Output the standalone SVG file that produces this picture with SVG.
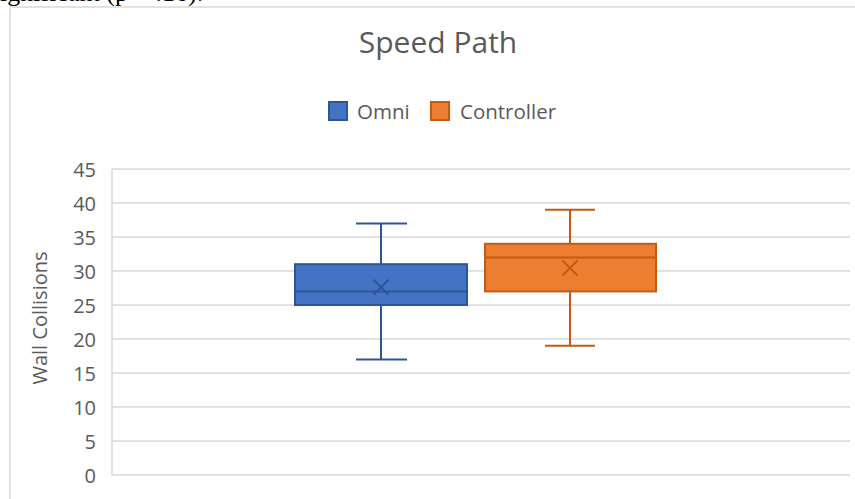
<svg xmlns="http://www.w3.org/2000/svg" width="855" height="499" viewBox="0 0 855 499">
<style>
.grid{stroke:#D9D9D9;stroke-width:1.5;fill:none}
.lbl{font-family:"Open Sans","Liberation Sans",sans-serif;fill:#595959}
.ytick{font-size:20px;text-anchor:end}
.omni{fill:#4472C4;stroke:#2F5597;stroke-width:2}
.omniL{stroke:#2F5597;stroke-width:2;fill:none}
.ctrl{fill:#ED7D31;stroke:#C55A11;stroke-width:2}
.ctrlL{stroke:#C55A11;stroke-width:2;fill:none}
</style>
<rect width="855" height="499" fill="#FFFFFF"/>
<text x="-10" y="1" font-family="'Liberation Serif',serif" font-size="26" fill="#000">significant (p = .16).</text>
<rect x="10" y="7" width="860" height="510" fill="#FFFFFF" stroke="#D9D9D9" stroke-width="1.5"/>
<text x="438" y="53" class="lbl" font-size="30" text-anchor="middle">Speed Path</text>
<g id="legend">
<rect x="329" y="102" width="18" height="18" class="omni" stroke-width="1.5"/>
<text x="357" y="119" class="lbl" font-size="20.5">Omni</text>
<rect x="431" y="102" width="18" height="18" class="ctrl" stroke-width="1.5"/>
<text x="460" y="119" class="lbl" font-size="20.5">Controller</text>
</g>
<g id="axes">
<line x1="112" y1="169" x2="850" y2="169" class="grid"/>
<line x1="112" y1="203" x2="850" y2="203" class="grid"/>
<line x1="112" y1="237" x2="850" y2="237" class="grid"/>
<line x1="112" y1="271" x2="850" y2="271" class="grid"/>
<line x1="112" y1="305" x2="850" y2="305" class="grid"/>
<line x1="112" y1="339" x2="850" y2="339" class="grid"/>
<line x1="112" y1="373" x2="850" y2="373" class="grid"/>
<line x1="112" y1="407" x2="850" y2="407" class="grid"/>
<line x1="112" y1="441" x2="850" y2="441" class="grid"/>
<line x1="112" y1="475" x2="850" y2="475" class="grid"/>
<line x1="112" y1="169" x2="112" y2="475" class="grid"/>
<g class="lbl ytick">
<text x="96" y="177">45</text>
<text x="96" y="211">40</text>
<text x="96" y="245">35</text>
<text x="96" y="279">30</text>
<text x="96" y="313">25</text>
<text x="96" y="347">20</text>
<text x="96" y="381">15</text>
<text x="96" y="415">10</text>
<text x="96" y="449">5</text>
<text x="96" y="483">0</text>
</g>
<text transform="translate(47,318) rotate(-90)" class="lbl" font-size="20" text-anchor="middle">Wall Collisions</text>
</g>
<g id="omni">
<line x1="381" y1="223.4" x2="381" y2="264.2" class="omniL"/>
<line x1="381" y1="305" x2="381" y2="359.4" class="omniL"/>
<line x1="356" y1="223.4" x2="407" y2="223.4" class="omniL"/>
<line x1="356" y1="359.4" x2="407" y2="359.4" class="omniL"/>
<rect x="295" y="264.2" width="172" height="40.8" class="omni"/>
<line x1="295" y1="291.4" x2="467" y2="291.4" class="omniL"/>
<path d="M373.5 279.8 L388.5 294.8 M388.5 279.8 L373.5 294.8" class="omniL" stroke-width="1.5"/>
</g>
<g id="controller">
<line x1="570" y1="209.8" x2="570" y2="243.8" class="ctrlL"/>
<line x1="570" y1="291.4" x2="570" y2="345.8" class="ctrlL"/>
<line x1="545" y1="209.8" x2="595" y2="209.8" class="ctrlL"/>
<line x1="545" y1="345.8" x2="595" y2="345.8" class="ctrlL"/>
<rect x="485" y="243.8" width="171" height="47.6" class="ctrl"/>
<line x1="485" y1="257.4" x2="656" y2="257.4" class="ctrlL"/>
<path d="M562.5 260.5 L577.5 275.5 M577.5 260.5 L562.5 275.5" class="ctrlL" stroke-width="1.5"/>
</g>
</svg>
